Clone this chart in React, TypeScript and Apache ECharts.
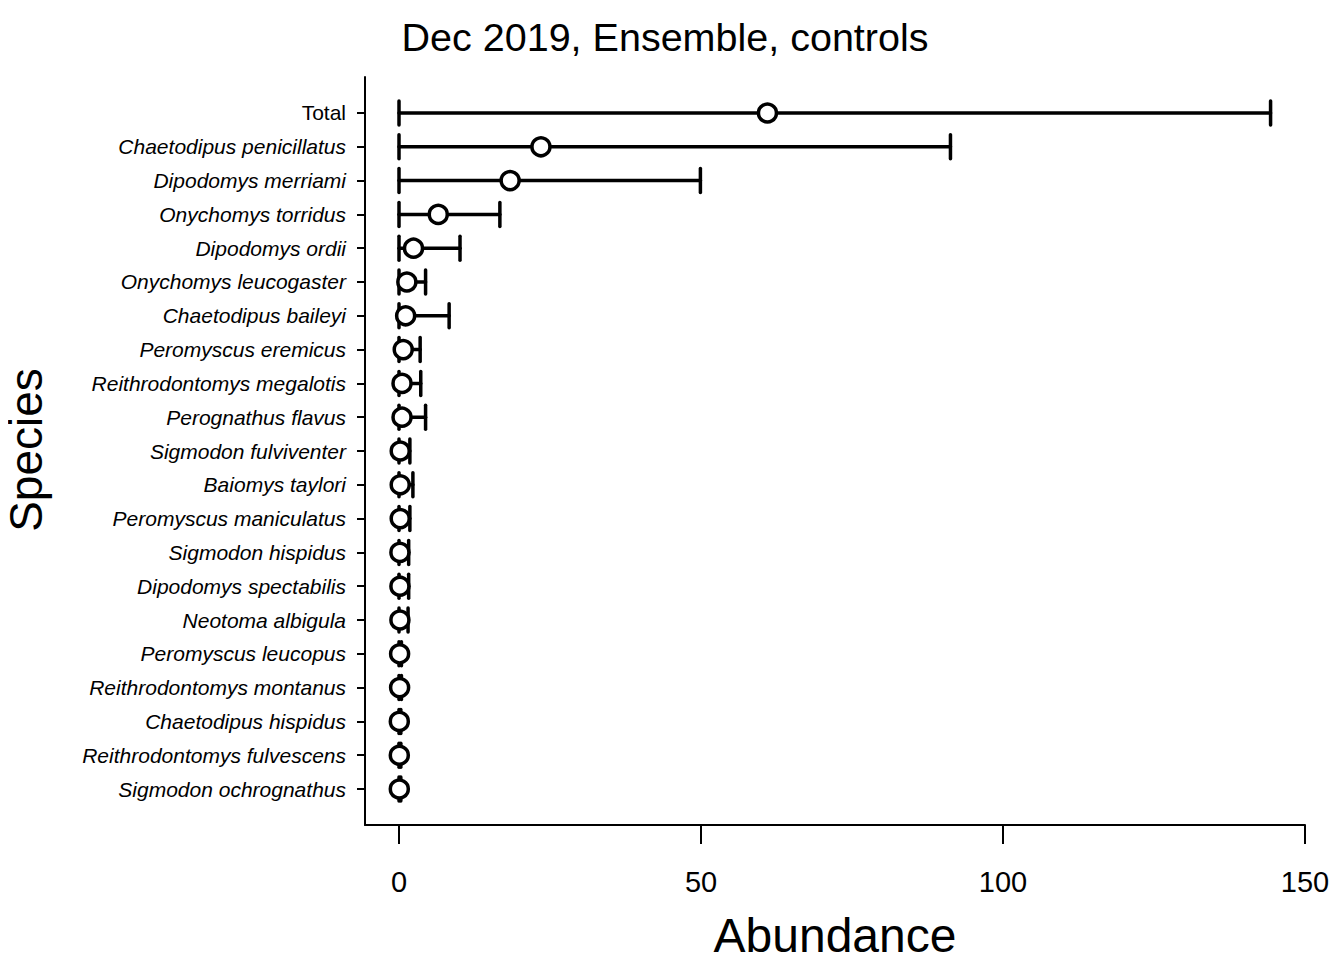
import { useEffect, useRef } from "react";
import * as echarts from "echarts";

const species = [
  "Total",
  "Chaetodipus penicillatus",
  "Dipodomys merriami",
  "Onychomys torridus",
  "Dipodomys ordii",
  "Onychomys leucogaster",
  "Chaetodipus baileyi",
  "Peromyscus eremicus",
  "Reithrodontomys megalotis",
  "Perognathus flavus",
  "Sigmodon fulviventer",
  "Baiomys taylori",
  "Peromyscus maniculatus",
  "Sigmodon hispidus",
  "Dipodomys spectabilis",
  "Neotoma albigula",
  "Peromyscus leucopus",
  "Reithrodontomys montanus",
  "Chaetodipus hispidus",
  "Reithrodontomys fulvescens",
  "Sigmodon ochrognathus",
];

const means = [61.0, 23.5, 18.4, 6.5, 2.4, 1.3, 1.1, 0.7, 0.5, 0.5, 0.2, 0.2, 0.2, 0.15, 0.15, 0.15, 0.1, 0.1, 0.05, 0.05, 0.05];
const lowers = [0, 0, 0, 0, 0, 0, 0, 0, 0, 0, 0, 0, 0, 0, 0, 0, 0, 0, 0, 0, 0];
const uppers = [144.3, 91.3, 49.9, 16.7, 10.1, 4.4, 8.3, 3.5, 3.6, 4.4, 1.8, 2.3, 1.8, 1.6, 1.6, 1.5, 0.4, 0.4, 0.3, 0.3, 0.3];

const xTicks = [0, 50, 100, 150];

const FONT = "Liberation Sans, Arial, Helvetica, sans-serif";

export default function App() {
  const chartRef = useRef<HTMLDivElement>(null);

  useEffect(() => {
    if (!chartRef.current) return;
    const chart = echarts.init(chartRef.current, undefined, { renderer: "svg" });
    const rows = species.map((_, i) => i + 1);

    const option: echarts.EChartsOption = {
      animation: false,
      backgroundColor: "#fff",
      textStyle: { fontFamily: FONT },
      grid: { left: 365, right: 39, top: 77, bottom: 135 },
      xAxis: {
        type: "value",
        min: -5.63,
        max: 150,
        splitLine: { show: false },
        axisLine: { onZero: false, lineStyle: { color: "#000", width: 2 } },
        axisTick: { customValues: xTicks, length: 19, lineStyle: { color: "#000", width: 2 } },
        axisLabel: { customValues: xTicks, color: "#000", fontSize: 29, margin: 42, fontFamily: FONT },
      },
      yAxis: {
        type: "value",
        inverse: true,
        min: -0.065,
        max: 22.065,
        splitLine: { show: false },
        axisLine: { onZero: false, lineStyle: { color: "#000", width: 2 } },
        axisTick: { customValues: rows, length: 8, lineStyle: { color: "#000", width: 2 } },
        axisLabel: {
          customValues: rows,
          margin: 19,
          formatter: (v: number) => {
            const name = species[Math.round(v) - 1];
            return name === "Total" ? `{n|${name}}` : `{i|${name}}`;
          },
          rich: {
            n: { fontSize: 21, color: "#000", fontFamily: FONT },
            i: { fontSize: 21, color: "#000", fontStyle: "italic", fontFamily: FONT },
          },
        },
      },
      graphic: [
        {
          type: "text",
          x: 665,
          y: 37,
          style: {
            text: "Dec 2019, Ensemble, controls",
            fontSize: 39.5,
            fontFamily: FONT,
            fill: "#000",
            textAlign: "center",
            textVerticalAlign: "middle",
          },
        },
        {
          type: "text",
          x: 835,
          y: 935,
          style: {
            text: "Abundance",
            fontSize: 48,
            fontFamily: FONT,
            fill: "#000",
            textAlign: "center",
            textVerticalAlign: "middle",
          },
        },
        {
          type: "text",
          x: 26,
          y: 450,
          rotation: Math.PI / 2,
          style: {
            text: "Species",
            fontSize: 46,
            lineHeight: 46,
            fontFamily: FONT,
            fill: "#000",
            textAlign: "center",
            textVerticalAlign: "middle",
          },
        },
      ],
      series: [
        {
          type: "custom",
          name: "interval",
          data: species.map((_, i) => [lowers[i], uppers[i], i + 1]),
          encode: { x: [0, 1], y: 2 },
          renderItem: (_params: any, api: any) => {
            const lo = api.coord([api.value(0), api.value(2)]);
            const hi = api.coord([api.value(1), api.value(2)]);
            const cap = 12;
            const style = { stroke: "#000", lineWidth: 3.5, lineCap: "round" };
            return {
              type: "group",
              children: [
                { type: "line", shape: { x1: lo[0], y1: lo[1], x2: hi[0], y2: hi[1] }, style },
                { type: "line", shape: { x1: lo[0], y1: lo[1] - cap, x2: lo[0], y2: lo[1] + cap }, style },
                { type: "line", shape: { x1: hi[0], y1: hi[1] - cap, x2: hi[0], y2: hi[1] + cap }, style },
              ],
            };
          },
          z: 2,
        },
        {
          type: "scatter",
          name: "mean",
          data: means.map((m, i) => [m, i + 1]),
          symbol: "circle",
          symbolSize: 18,
          itemStyle: { color: "#fff", borderColor: "#000", borderWidth: 3.5, opacity: 1 },
          z: 3,
        },
      ],
    };
    chart.setOption(option);

    const handleResize = () => chart.resize();
    window.addEventListener("resize", handleResize);
    return () => {
      window.removeEventListener("resize", handleResize);
      chart.dispose();
    };
  }, []);

  return <div ref={chartRef} style={{ width: "1344px", height: "960px", margin: "-8px" }} />;
}
